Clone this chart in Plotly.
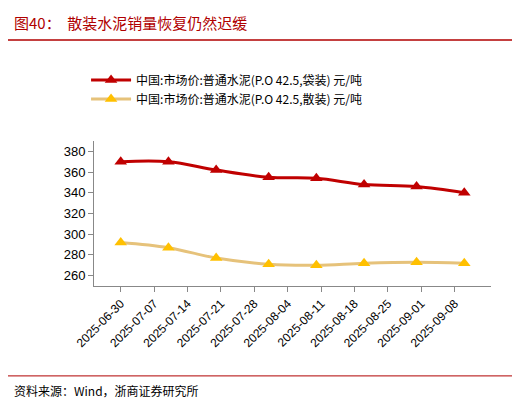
import plotly.graph_objects as go

dates = ["2025-06-30", "2025-07-10", "2025-07-20", "2025-07-31",
         "2025-08-10", "2025-08-20", "2025-08-31", "2025-09-10"]
bagged = [370, 370, 362, 355, 354, 348, 346, 340]
bulk = [292, 287, 277, 271, 270, 272, 273, 272]
tick_dates = ["2025-06-30", "2025-07-07", "2025-07-14", "2025-07-21", "2025-07-28",
              "2025-08-04", "2025-08-11", "2025-08-18", "2025-08-25", "2025-09-01", "2025-09-08"]

fig = go.Figure()
fig.add_trace(go.Scatter(x=dates, y=bagged, mode="lines+markers",
                         name="中国:市场价:普通水泥(P.O 42.5,袋装) 元/吨",
                         line=dict(color="#c00000", width=3, shape="spline"),
                         marker=dict(symbol="triangle-up", size=11, color="#c00000")))
fig.add_trace(go.Scatter(x=dates, y=bulk, mode="lines+markers",
                         name="中国:市场价:普通水泥(P.O 42.5,散装) 元/吨",
                         line=dict(color="#e6c27a", width=3, shape="spline"),
                         marker=dict(symbol="triangle-up", size=11, color="#ffc000")))

font = "Noto Sans CJK SC, Liberation Sans, sans-serif"
fig.update_layout(
    width=520, height=402, paper_bgcolor="white", plot_bgcolor="white",
    font=dict(family=font, size=12, color="#000"),
    margin=dict(l=86, r=37, t=133, b=124),
    legend=dict(x=-0.02, y=1.52, xanchor="left", yanchor="top",
                font=dict(size=12), tracegroupgap=8, itemwidth=40, bgcolor="rgba(0,0,0,0)"),
    showlegend=True,
)
fig.update_xaxes(type="date", range=["2025-06-29.9", "2025-09-13"],
                 tickvals=tick_dates, ticktext=tick_dates, tickangle=-45,
                 showline=True, linecolor="#888", ticks="outside", ticklen=5,
                 tickcolor="#888", showgrid=False,
                 tickfont=dict(size=12, family="Liberation Sans, Arial"))
fig.update_yaxes(range=[250, 390], dtick=20, showline=True, linecolor="#888",
                 ticks="outside", ticklen=5, tickcolor="#888", showgrid=False,
                 zeroline=False, tickfont=dict(size=13, family="Liberation Sans, Arial"))

fig.add_annotation(text="图40：  散装水泥销量恢复仍然迟缓", x=-0.207, y=1.814, xref="paper", yref="paper",
                   xanchor="left", yanchor="middle", showarrow=False,
                   font=dict(size=15, color="#b00000"))
fig.add_shape(type="line", xref="paper", yref="paper", x0=-0.217, x1=1.08, y0=1.697, y1=1.697,
              line=dict(color="#b00000", width=1.5))
fig.add_shape(type="line", xref="paper", yref="paper", x0=-0.217, x1=1.08, y0=-0.62, y1=-0.62,
              line=dict(color="#b00000", width=1))
fig.add_annotation(text="资料来源：Wind，浙商证券研究所", x=-0.207, y=-0.724, xref="paper", yref="paper",
                   xanchor="left", yanchor="middle", showarrow=False,
                   font=dict(size=12))

fig.write_html("out.html")
